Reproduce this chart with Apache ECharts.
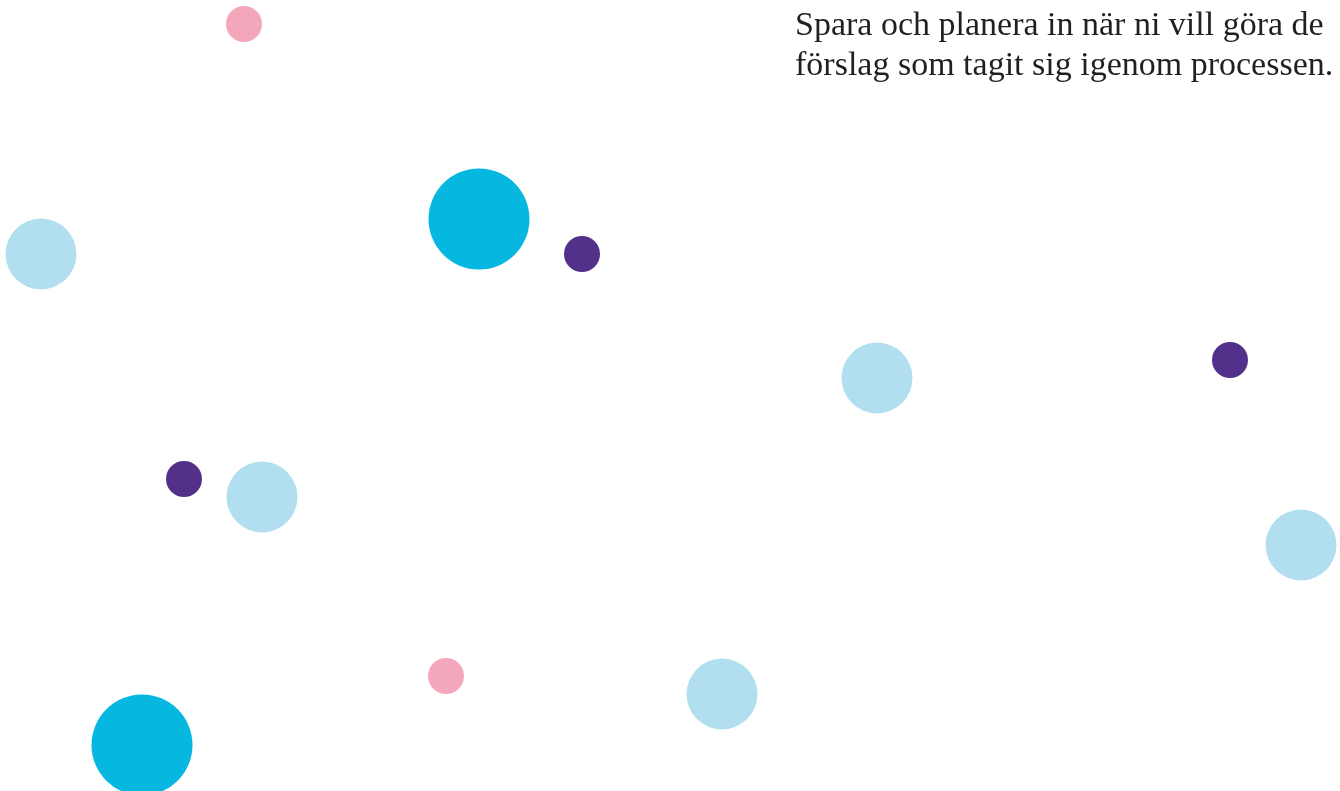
<!DOCTYPE html>
<html><head><meta charset="utf-8">
<script src="https://cdn.jsdelivr.net/npm/echarts@6/dist/echarts.min.js"></script>
<style>html,body{margin:0;padding:0;background:#fff}#c{width:1340px;height:791px}</style>
</head><body><div id="c"></div>
<script>
// Bubble groups: x, y positions (in chart units), diameter
const pinkX = [244, 446];
const pinkY = [24, 676];
const purpleX = [582, 1230, 184];
const purpleY = [254, 360, 479];
const lightX = [41, 877, 262, 1301, 722];
const lightY = [254, 378, 497, 545, 694];
const cyanX = [479, 142];
const cyanY = [219, 745];
const textLines = ["Spara och planera in när ni vill göra de", "förslag som tagit sig igenom processen."];

const zip = (xs, ys) => xs.map((x, i) => [x, ys[i]]);
const chart = echarts.init(document.getElementById('c'));
const mk = (name, xs, ys, size, color) => ({
  name, type: 'scatter', data: zip(xs, ys), symbolSize: size,
  itemStyle: { color, opacity: 1 }, silent: true
});
chart.setOption({
  animation: false,
  grid: { left: 0, right: 0, top: 0, bottom: 0 },
  xAxis: { type: 'value', min: 0, max: 1340, show: false },
  yAxis: { type: 'value', min: 0, max: 791, inverse: true, show: false },
  series: [
    mk('pink', pinkX, pinkY, 36, '#F4A7BA'),
    mk('purple', purpleX, purpleY, 36, '#53318A'),
    mk('light', lightX, lightY, 71, '#B2DFF0'),
    mk('cyan', cyanX, cyanY, 101, '#06B8E0')
  ],
  graphic: textLines.map((t, i) => ({
    type: 'text', left: 795, top: 9 + i * 40,
    style: { text: t, font: '34px "Liberation Serif"', fill: '#231F20' }
  }))
});
</script></body></html>
